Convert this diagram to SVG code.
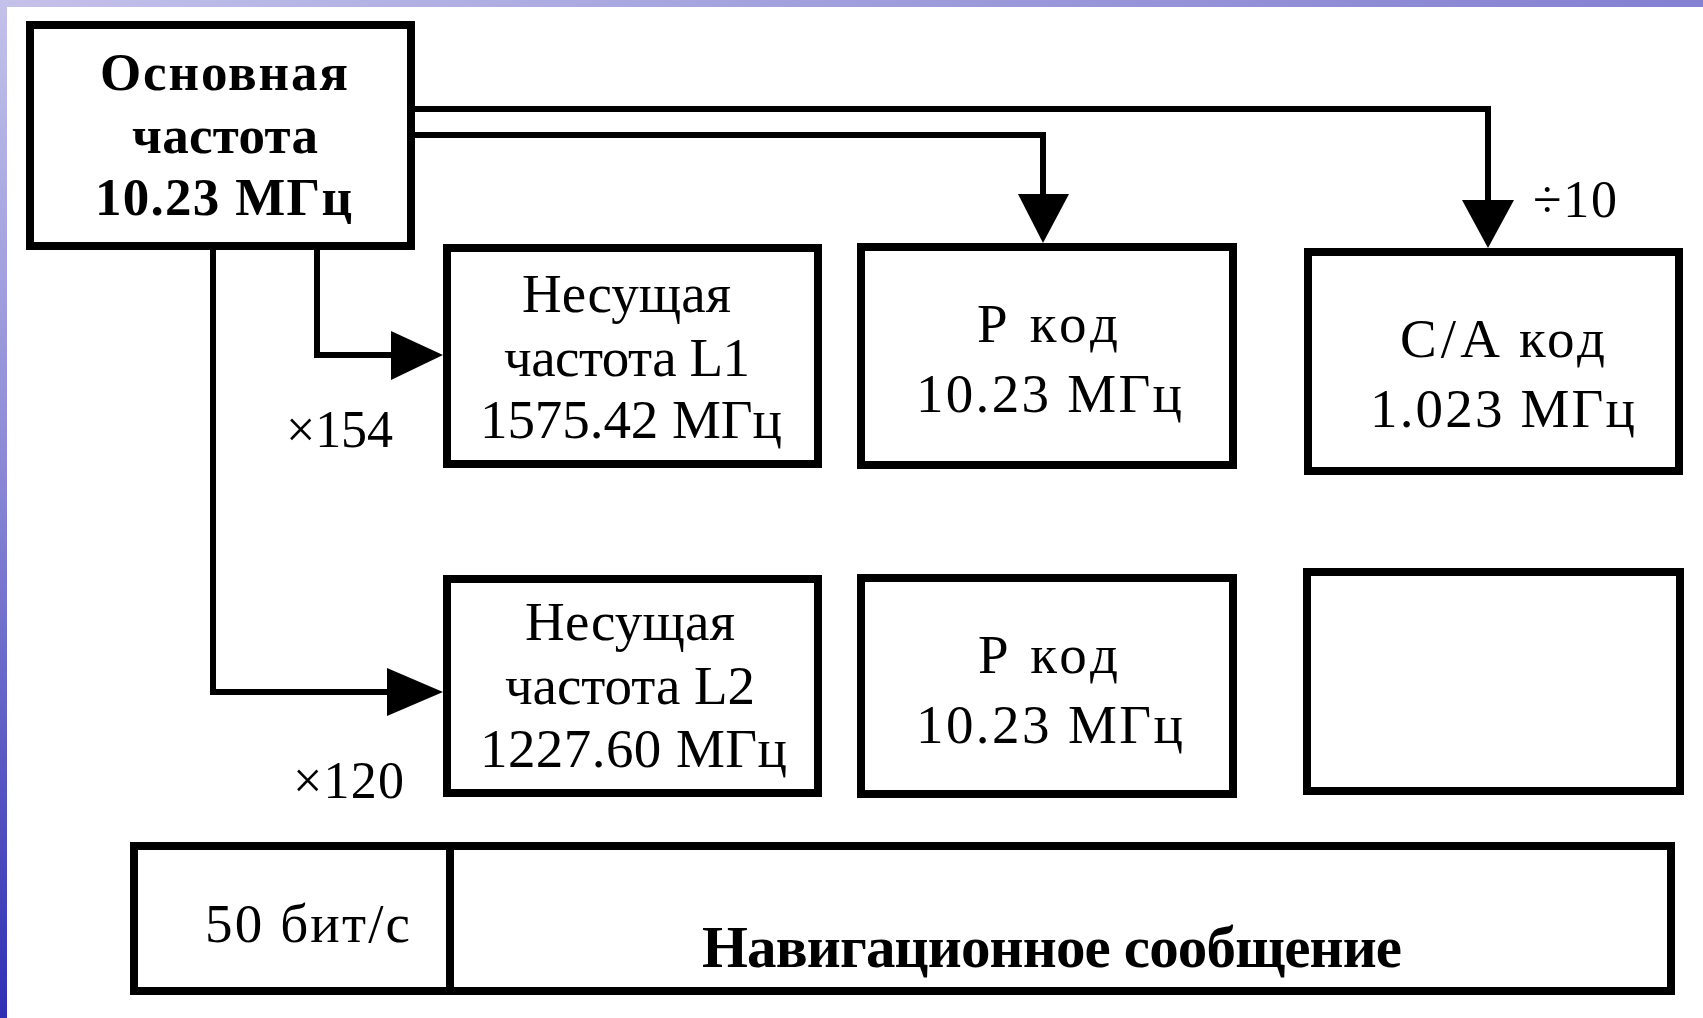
<svg xmlns="http://www.w3.org/2000/svg" width="1703" height="1018" viewBox="0 0 1703 1018">
<defs>
<linearGradient id="gTop" x1="0" y1="0" x2="1" y2="0">
<stop offset="0" stop-color="#c4c2ea"/>
<stop offset="0.5" stop-color="#a09edc"/>
<stop offset="1" stop-color="#8480d2"/>
</linearGradient>
<linearGradient id="gLeft" x1="0" y1="0" x2="0" y2="1">
<stop offset="0" stop-color="#c4c2ea"/>
<stop offset="0.45" stop-color="#8c8ad6"/>
<stop offset="1" stop-color="#2f2fb4"/>
</linearGradient>
</defs>
<style>
.box{fill:#fff;stroke:#000;stroke-width:8}
.ln{fill:none;stroke:#000;stroke-width:6}
.ar{fill:#000}
.t{font-family:"Liberation Serif","DejaVu Serif",serif;font-size:55px;fill:#000}
.s{font-family:"Liberation Serif","DejaVu Serif",serif;font-size:52px;fill:#000}
.b{font-family:"Liberation Serif","DejaVu Serif",serif;font-size:53px;font-weight:bold;fill:#000}
.nb{font-family:"Liberation Serif","DejaVu Serif",serif;font-size:59px;font-weight:bold;fill:#000}
</style>
<rect x="0" y="0" width="1703" height="1018" fill="#fff"/>
<rect x="0" y="0" width="1703" height="7" fill="url(#gTop)"/>
<rect x="0" y="0" width="7" height="1018" fill="url(#gLeft)"/>

<g id="connectors">
<path class="ln" d="M415,109 H1488 V202" stroke-width="5"/>
<polygon class="ar" points="1462,200 1514,200 1488,248"/>
<path class="ln" d="M415,135 H1043 V196"/>
<polygon class="ar" points="1018,194 1069,194 1043,243"/>
<path class="ln" d="M317,250 V355 H394"/>
<polygon class="ar" points="391,331 391,380 443,355"/>
<path class="ln" d="M213,250 V692 H390"/>
<polygon class="ar" points="387,668 387,716 443,692"/>
</g>

<g id="node-main">
<rect class="box" x="30" y="25" width="381" height="221"/>
<text class="b" x="100" y="90" textLength="248" lengthAdjust="spacing">Основная</text>
<text class="b" x="132" y="153" textLength="186" lengthAdjust="spacing">частота</text>
<text class="b" x="95" y="215" textLength="257" lengthAdjust="spacing">10.23 МГц</text>
</g>

<g id="node-l1">
<rect class="box" x="447" y="248" width="371" height="216"/>
<text class="t" x="522" y="312" textLength="209" lengthAdjust="spacing">Несущая</text>
<text class="t" x="504" y="376" textLength="246" lengthAdjust="spacing">частота L1</text>
<text class="t" x="480" y="438" textLength="302" lengthAdjust="spacing">1575.42 МГц</text>
</g>

<g id="node-p1">
<rect class="box" x="861" y="247" width="372" height="218"/>
<text class="t" x="977" y="342" textLength="141" lengthAdjust="spacing">P код</text>
<text class="t" x="916" y="412" textLength="266" lengthAdjust="spacing">10.23 МГц</text>
</g>

<g id="node-ca">
<rect class="box" x="1308" y="252" width="371" height="219"/>
<text class="t" x="1400" y="357" textLength="205" lengthAdjust="spacing">C/A код</text>
<text class="t" x="1370" y="427" textLength="265" lengthAdjust="spacing">1.023 МГц</text>
</g>

<g id="node-l2">
<rect class="box" x="447" y="579" width="371" height="214"/>
<text class="t" x="525" y="640" textLength="210" lengthAdjust="spacing">Несущая</text>
<text class="t" x="505" y="704" textLength="250" lengthAdjust="spacing">частота L2</text>
<text class="t" x="480" y="767" textLength="307" lengthAdjust="spacing">1227.60 МГц</text>
</g>

<g id="node-p2">
<rect class="box" x="861" y="578" width="372" height="216"/>
<text class="t" x="978" y="673" textLength="140" lengthAdjust="spacing">P код</text>
<text class="t" x="916" y="743" textLength="267" lengthAdjust="spacing">10.23 МГц</text>
</g>

<g id="node-empty">
<rect class="box" x="1307" y="572" width="373" height="219"/>
</g>

<g id="node-nav">
<rect class="box" x="134" y="846" width="1537" height="145"/>
<line x1="450" y1="846" x2="450" y2="991" stroke="#000" stroke-width="8"/>
<text class="t" x="205" y="942" textLength="205" lengthAdjust="spacing">50 бит/с</text>
<text class="nb" x="702" y="967" textLength="700" lengthAdjust="spacing">Навигационное сообщение</text>
</g>

<g id="labels">
<text class="s" x="1533" y="217" textLength="84" lengthAdjust="spacing">÷10</text>
<text class="s" x="286" y="447" textLength="107" lengthAdjust="spacing">×154</text>
<text class="s" x="293" y="798" textLength="111" lengthAdjust="spacing">×120</text>
</g>
</svg>
